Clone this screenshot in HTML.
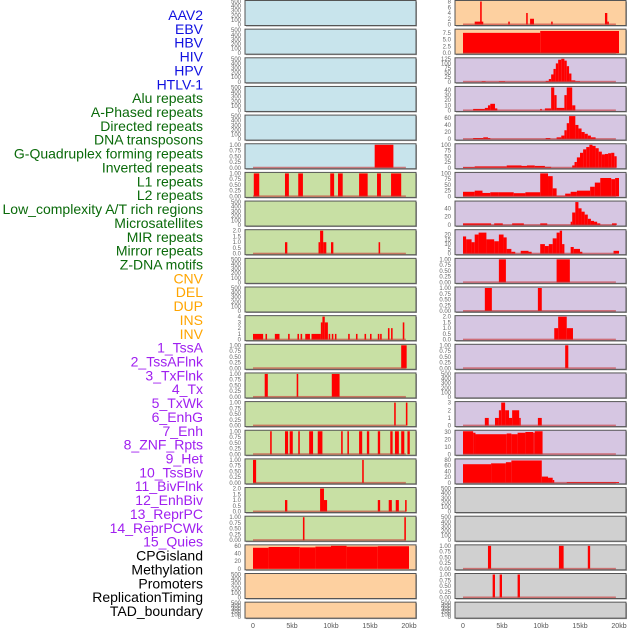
<!DOCTYPE html>
<html><head><meta charset="utf-8"><style>
body{margin:0;background:#fff;}
svg{display:block;font-family:"Liberation Sans",sans-serif;}
</style></head><body>
<svg id="c" width="630" height="630" xmlns="http://www.w3.org/2000/svg"></svg>
<script>
const trackLabels=["AAV2","EBV","HBV","HIV","HPV","HTLV-1","Alu repeats","A-Phased repeats","Directed repeats","DNA transposons","G-Quadruplex forming repeats","Inverted repeats","L1 repeats","L2 repeats","Low_complexity A/T rich regions","Microsatellites","MIR repeats","Mirror repeats","Z-DNA motifs","CNV","DEL","DUP","INS","INV","1_TssA","2_TssAFlnk","3_TxFlnk","4_Tx","5_TxWk","6_EnhG","7_Enh","8_ZNF_Rpts","9_Het","10_TssBiv","11_BivFlnk","12_EnhBiv","13_ReprPC","14_ReprPCWk","15_Quies","CPGisland","Methylation","Promoters","ReplicationTiming","TAD_boundary"];
const labelColors=[].concat(Array(6).fill("#1010e0"),Array(13).fill("#0a6a0a"),Array(5).fill("#ffa500"),Array(15).fill("#a020f0"),Array(5).fill("#000"));
const xTickLabels=["0","5kb","10kb","15kb","20kb"];
const xTickValues=[0,5,10,15,20];
const T500=["0","100","200","300","400","500"];
const T1=["0.00","0.25","0.50","0.75","1.00"];
const T2=["0.0","0.5","1.0","1.5","2.0"];
const T4=["0","1","2","3","4"];
const T60=["0","20","40","60"];
const T8=["0","2","4","6","8"];
const T75=["0.0","2.5","5.0","7.5"];
const T125=["0","25","50","75","100","125"];
const T40=["0","10","20","30","40"];
const T60b=["0","20","40","60"];
const T100=["0","25","50","75","100"];
const T40b=["0","20","40"];
const T20=["0","5","10","15","20"];
const T3=["0","1","2","3"];
const T30=["0","10","20","30"];
const T80=["0","20","40","60","80"];
// left column segments [startKb,endKb,value]
const L5=[[15.6,18.0,1]];
const L6=[[0.1,0.8,1],[4.1,4.6,1],[5.8,6.4,1],[9.9,10.4,1],[10.9,11.5,1],[13.6,14.7,1],[15.9,16.4,1],[17.7,19.0,1]];
const L8=[[4.1,4.4,1],[8.4,8.6,1],[8.6,9.0,2],[9.0,9.4,1],[10.0,10.3,1],[16.1,16.3,1]];
const L11=[[0,1.3,1],[1.6,1.8,1],[2.8,3.4,1],[4.5,4.7,1],[5.7,5.9,1],[6.1,6.3,1],[6.7,7.3,1],[7.5,8.7,1],[8.7,8.9,3],[8.9,9.2,4],[9.2,9.6,3],[9.7,9.9,1],[10.1,10.3,1],[10.5,10.7,1],[12.2,12.4,1],[13.2,13.4,1],[14.3,14.5,1],[15.0,15.2,1],[16.0,16.2,1],[16.3,16.5,1],[17.3,17.5,2],[17.7,17.9,2],[19.2,19.4,3]];
const L12=[[19.0,19.7,1]];
const L13=[[1.5,1.9,1],[5.6,5.8,1],[10.1,11.1,1]];
const L14=[[18.1,18.3,1],[19.6,19.8,1]];
const L15=[[2.2,2.4,1],[4.1,4.5,1],[4.7,5.1,1],[5.8,6.0,1],[7.2,7.7,1],[8.3,8.9,1],[11.3,11.5,1],[12.1,12.3,1],[13.6,14.0,1],[14.6,14.9,1],[16.0,16.3,1],[17.6,17.9,1],[18.2,18.7,1],[19.0,19.4,1],[19.8,20.1,1]];
const L16=[[0,0.4,1],[14.0,14.2,1]];
const L17=[[4.1,4.4,1],[8.6,9.1,2],[9.1,9.5,1],[16.0,16.3,1],[17.4,17.8,1],[18.3,18.7,1],[19.5,19.7,1]];
const L18=[[6.4,6.6,1],[19.4,19.6,1]];
const L19=[[0,2,55],[2,6,57],[6,8,56],[8,10,58],[10,12,60],[12,16,58],[16,20,59]];
// right column
const R0=[[1.5,2.6,1],[2.2,2.4,8],[5.8,6.0,1],[8.1,8.3,4],[8.6,9.1,2],[11.3,11.5,1],[18.2,18.5,4],[18.5,18.7,1]];
const R1=[[0,9.9,7.5],[9.9,20,8.2]];
const R2=[[2.4,2.9,3],[4.6,5.4,3],[10.6,11.0,5],[11.0,11.3,15],[11.3,11.6,40],[11.6,11.9,70],[11.9,12.2,100],[12.2,12.6,120],[12.6,13.0,125],[13.0,13.3,115],[13.3,13.6,85],[13.6,13.9,45],[13.9,14.4,8],[14.4,15.0,3]];
const R3=[[1.3,2.8,3],[2.8,3.2,5],[3.2,3.5,10],[3.5,4.1,13],[4.1,4.4,4],[9.9,10.1,3],[10.5,11.3,4],[11.3,11.7,45],[11.7,12.0,30],[12.0,13.0,5],[13.0,13.3,30],[13.3,14.0,45],[14.0,14.4,10]];
const R4=[[1.3,2.6,3],[2.6,3.2,5],[3.2,3.5,3],[10.6,11.2,3],[12.0,12.6,5],[12.6,13.0,10],[13.0,13.3,25],[13.3,13.6,45],[13.6,14.4,65],[14.4,14.8,40],[14.8,15.2,30],[15.2,15.6,20],[15.6,16.0,15],[16.0,16.4,10],[16.4,17.0,5]];
const R5=[[0,1.5,3],[1.5,5.6,6],[5.6,7.5,10],[7.5,8.2,8],[8.2,9.2,10],[9.2,10.5,8],[10.5,11.3,4],[14.0,14.3,10],[14.3,14.6,25],[14.6,15.0,45],[15.0,15.4,65],[15.4,15.8,80],[15.8,16.2,90],[16.2,16.6,100],[16.6,17.0,95],[17.0,17.4,85],[17.4,17.8,70],[17.8,18.2,58],[18.2,18.6,60],[18.6,19.0,63],[19.0,19.4,65],[19.4,19.7,50]];
const R6=[[0,1.5,20],[1.5,2.5,25],[2.5,3.5,15],[3.5,4.5,18],[4.5,6.5,18],[6.5,8,14],[8,9.9,18],[9.9,10.9,100],[10.9,11.5,88],[11.5,12.0,35],[12.0,13.1,3],[13.1,13.8,12],[13.8,14.6,20],[14.6,16.3,25],[16.3,16.9,42],[16.9,17.6,60],[17.6,19.0,80],[19.0,19.5,75],[19.5,20,80]];
const R7=[[0,3.6,4],[4.0,5.1,4],[6.3,7.8,4],[9.9,10.8,4],[13.8,14.0,8],[14.0,14.4,30],[14.4,14.8,55],[14.8,15.2,40],[15.2,15.6,32],[15.6,16.0,25],[16.0,16.4,15],[16.4,16.8,10],[16.8,17.2,8],[17.2,17.6,4],[19.1,19.7,4]];
const R8=[[0,0.4,18],[0.4,1.1,15],[1.1,1.5,12],[1.5,2,20],[2,3,22],[3,4,15],[4,4.6,13],[4.6,5.2,20],[5.2,5.6,17],[5.6,6.2,5],[6.2,6.7,2],[7.4,8.4,3],[8.4,8.8,2],[9.9,10.5,10],[10.5,11,8],[11,11.5,10],[11.5,12,16],[12,12.4,22],[12.4,12.7,24],[12.7,13,10],[13.8,14.2,7],[14.2,15,5],[15,15.3,2],[19.3,20,3]];
const R9=[[4.6,5.5,1],[12.0,13.7,1]];
const R10=[[2.8,3.7,1],[9.6,10.1,1]];
const R11=[[11.7,12.2,1],[12.2,13.3,2],[13.3,14.1,1]];
const R12=[[13.1,13.5,1]];
const R14=[[2.8,3.3,1],[4.1,4.6,1],[4.6,4.9,2],[4.9,5.4,3],[5.4,5.9,2],[5.9,6.3,1],[6.3,7.2,2],[7.2,7.4,1],[9.6,10.1,1]];
const R15=[[0,1.3,31],[1.3,1.6,29],[1.6,5.6,27],[5.6,6.2,28],[6.2,7.0,27],[7.0,8.0,29],[8.0,9.0,30],[9.0,9.2,29],[9.2,10.2,31]];
const R16=[[0,3.6,65],[3.6,5.5,68],[5.5,6.2,72],[6.2,10.1,78],[10.1,10.9,22],[10.9,11.5,18],[11.5,11.7,10],[13.3,20,3]];
const R19=[[3.2,3.6,1],[12.3,12.9,1],[16.0,16.3,1]];
const R20=[[3.8,4.1,1],[4.7,5.0,1],[7.0,7.3,1]];

const BLUE="#c8e4ec",GREEN="#c8e0a4",ORANGE="#fdd0a0",PURPLE="#d6c6e2",GREY="#d0d0d0";
const leftPanels=[
[BLUE,T500,null],[BLUE,T500,null],[BLUE,T500,null],[BLUE,T500,null],[BLUE,T500,null],[BLUE,T1,L5],
[GREEN,T1,L6],[GREEN,T500,null],[GREEN,T2,L8],[GREEN,T500,null],[GREEN,T500,null],[GREEN,T4,L11],
[GREEN,T1,L12],[GREEN,T1,L13],[GREEN,T1,L14],[GREEN,T1,L15],[GREEN,T1,L16],[GREEN,T2,L17],[GREEN,T1,L18],
[ORANGE,T60,L19],[ORANGE,T500,null],[ORANGE,T500,null]];
const rightPanels=[
[ORANGE,T8,R0],[ORANGE,T75,R1,8.5],[PURPLE,T125,R2],[PURPLE,T40,R3,45],[PURPLE,T60b,R4,65],[PURPLE,T100,R5],
[PURPLE,T100,R6],[PURPLE,T40b,R7,55],[PURPLE,T20,R8,24],[PURPLE,T1,R9],[PURPLE,T1,R10],[PURPLE,T2,R11],
[PURPLE,T1,R12],[PURPLE,T500,null],[PURPLE,T3,R14],[PURPLE,T30,R15,31],[PURPLE,T80,R16],
[GREY,T500,null],[GREY,T500,null],[GREY,T1,R19],[GREY,T1,R20],[GREY,T500,null]];

const svg=document.getElementById('c');
const NS="http://www.w3.org/2000/svg";
function mk(tag,attrs,parent){const e=document.createElementNS(NS,tag);for(const k in attrs)e.setAttribute(k,attrs[k]);(parent||svg).appendChild(e);return e;}
function txt(x,y,s,attrs){const e=mk('text',Object.assign({x:x,y:y},attrs));e.textContent=s;return e;}

// labels
trackLabels.forEach((l,i)=>{
  const t=txt(203,20+i*13.86,l,{'text-anchor':'end','font-size':'14',fill:labelColors[i]});
  
  
});

function drawPanel(cfg,col,row){
  const [bg,ticks,segs,ym]=cfg;
  const px=col===0?245:455, pw=171;
  const py=row*28.65+0.5, ph=row===21?16:25;
  const x0=px+8, kbW=7.8;
  const xs=kb=>x0+kb*kbW;
  const vals=ticks.map(parseFloat);
  const ymax=ym||vals[vals.length-1];
  const ys=v=>py+ph-1-(v/ymax)*(ph-2);
  const g=mk('g',{});
  
  
  mk('rect',{x:px+1,y:py+1,width:pw,height:ph,fill:'#999'},g);
  mk('rect',{x:px,y:py,width:pw,height:ph,fill:bg,stroke:'#555','stroke-width':1},g);
  ticks.forEach((t,i)=>{
    const tt=txt(px-4,ys(vals[i])+2,t,{'text-anchor':'end','font-size':'6',fill:'#666'});
    g.appendChild(tt);
    
    
  });
  if(segs){
    segs.forEach(s=>{
      const r=mk('rect',{x:xs(s[0]),y:ys(s[2]),width:Math.max(1,xs(s[1])-xs(s[0])),height:ys(0)-ys(s[2]),fill:'#ff0000'},g);
      
      
    });
    if(bg!==ORANGE||segs!==L19) mk('rect',{x:xs(0),y:ys(0)-1,width:xs(19.6)-xs(0),height:1.5,fill:'rgba(200,50,50,0.6)'},g);
  }
}
leftPanels.forEach((c,i)=>drawPanel(c,0,i));
rightPanels.forEach((c,i)=>drawPanel(c,1,i));
[0,1].forEach(col=>{
  const x0=col===0?253:463;
  xTickValues.forEach((v,i)=>{
    const t=txt(x0+v*7.8,628,xTickLabels[i],{'text-anchor':'middle','font-size':'7',fill:'#555'});
    
    
  });
});
</script>
</body></html>
